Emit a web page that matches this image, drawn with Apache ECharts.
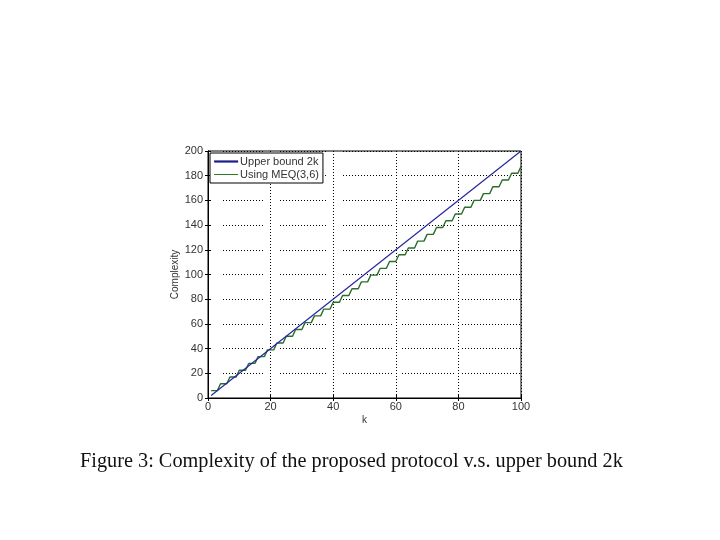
<!DOCTYPE html>
<html><head><meta charset="utf-8">
<script src="https://cdn.jsdelivr.net/npm/echarts@6/dist/echarts.min.js"></script>
<style>html,body{margin:0;padding:0;background:#fff;}#c{width:720px;height:540px;}</style>
</head><body><div id="c"></div>
<script>
// ---- data ----
var seriesNames = ['Upper bound 2k', 'Using MEQ(3,6)'];
var xTicks = [0, 20, 40, 60, 80, 100];
var yTicks = [0, 20, 40, 60, 80, 100, 120, 140, 160, 180, 200];
var boundK = [1, 100];
var boundV = [2, 200];
var meqK = [1,2,3,4,5,6,7,8,9,10,11,12,13,14,15,16,17,18,19,20,21,22,23,24,25,26,27,28,29,30,31,32,33,34,35,36,37,38,39,40,41,42,43,44,45,46,47,48,49,50,51,52,53,54,55,56,57,58,59,60,61,62,63,64,65,66,67,68,69,70,71,72,73,74,75,76,77,78,79,80,81,82,83,84,85,86,87,88,89,90,91,92,93,94,95,96,97,98,99,100];
var meqV = [6,6,6, 11.5,11.5,11.5, 17,17,17, 22.5,22.5,22.5, 28,28,28, 33.5,33.5,33.5, 39,39,39, 44.5,44.5,44.5, 50,50,50, 55.5,55.5,55.5,
            61,61,61, 66.5,66.5,66.5, 72,72,72, 77.5,77.5,77.5, 83,83,83, 88.5,88.5,88.5, 94,94,94, 99.5,99.5,99.5, 105,105,105, 110.5,110.5,110.5,
            116,116,116, 121.5,121.5,121.5, 127,127,127, 132.5,132.5,132.5, 138,138,138, 143.5,143.5,143.5, 149,149,149, 154.5,154.5,154.5,
            160,160,160, 165.5,165.5,165.5, 171,171,171, 176.5,176.5,176.5, 182,182,182, 187.5];
var caption = 'Figure 3: Complexity of the proposed protocol v.s. upper bound 2k';

function zip(a, b) { return a.map(function (v, i) { return [v, b[i]]; }); }

// style helper: dotted pattern with breaks, as in the original export
function dashPattern(segs) {
  var out = [];
  segs.forEach(function (s) {
    if (s[0] === 'gap') { out.push(0, s[1]); }
    else { for (var i = 0; i < Math.floor(s[1] / 3); i++) out.push(1, 2); }
  });
  return out;
}
var hDash = dashPattern([['gap', 15], ['dot', 42], ['gap', 15], ['dot', 48], ['gap', 15], ['dot', 52], ['gap', 8], ['dot', 54], ['gap', 6], ['dot', 60]]);

var chart = echarts.init(document.getElementById('c'), null, {renderer: 'canvas'});
var sans = 'Liberation Sans, Arial, sans-serif';
var labelFont = {color: '#333', fontFamily: sans, fontSize: 11};
chart.setOption({
  animation: false,
  backgroundColor: '#fff',
  grid: {left: 208, right: 199, top: 151, bottom: 142, show: true, borderColor: '#000', borderWidth: 1, backgroundColor: 'transparent'},
  legend: {
    left: 210, top: 153, orient: 'vertical',
    data: [{name: seriesNames[0], lineStyle: {width: 2.2, color: '#1c1c8c'}, itemStyle: {opacity: 0}},
           {name: seriesNames[1], lineStyle: {width: 1, color: '#2a7a2a'}, itemStyle: {opacity: 0}}],
    itemWidth: 24, itemHeight: 10, itemGap: 2,
    padding: [3, 4, 3, 3],
    borderColor: '#000', borderWidth: 1, backgroundColor: '#fff',
    textStyle: {color: '#333', fontFamily: sans, fontSize: 11, padding: [0, 0, 0, -3]}
  },
  xAxis: [{
    type: 'value', min: 0, max: 100, interval: 20,
    name: 'k', nameLocation: 'middle', nameGap: 17,
    nameTextStyle: {color: '#333', fontFamily: sans, fontSize: 10},
    axisLine: {show: true, onZero: false, lineStyle: {color: '#000'}},
    axisTick: {show: true, inside: true, length: 3, lineStyle: {color: '#000'}},
    axisLabel: Object.assign({margin: 3, formatter: function (v) { return xTicks.indexOf(v) >= 0 ? String(v) : ''; }}, labelFont),
    splitLine: {show: true, lineStyle: {color: '#000', width: 1, type: [1, 2]}}
  }, {
    type: 'value', min: 0, max: 100, interval: 20, position: 'top',
    axisLine: {show: true, lineStyle: {color: '#000'}},
    axisTick: {show: true, inside: true, length: 3, lineStyle: {color: '#000'}},
    axisLabel: {show: false}, splitLine: {show: false}
  }],
  yAxis: [{
    type: 'value', min: 0, max: 200, interval: 20,
    name: 'Complexity', nameLocation: 'middle', nameGap: 26,
    nameTextStyle: {color: '#333', fontFamily: sans, fontSize: 10},
    axisLine: {show: true, onZero: false, lineStyle: {color: '#000'}},
    axisTick: {show: true, inside: true, length: 3, lineStyle: {color: '#000'}},
    axisLabel: Object.assign({margin: 5, formatter: function (v) { return yTicks.indexOf(v) >= 0 ? String(v) : ''; }}, labelFont),
    splitLine: {show: true, lineStyle: {color: '#000', width: 1, type: hDash}}
  }, {
    type: 'value', min: 0, max: 200, interval: 20, position: 'right',
    axisLine: {show: true, lineStyle: {color: '#000'}},
    axisTick: {show: true, inside: true, length: 3, lineStyle: {color: '#000'}},
    axisLabel: {show: false}, splitLine: {show: false}
  }],
  series: [{
    name: seriesNames[0], type: 'line', data: zip(boundK, boundV), symbol: 'none',
    lineStyle: {color: '#2626a0', width: 1.2}, itemStyle: {color: '#1c1c8c'}, z: 3
  }, {
    name: seriesNames[1], type: 'line', data: zip(meqK, meqV), symbol: 'none',
    lineStyle: {color: '#2a6e2a', width: 1.4}, itemStyle: {color: '#2a7a2a'}, z: 2
  }],
  graphic: [{
    type: 'text', left: 80, top: 452,
    style: {text: caption, fill: '#111', font: '20.3px "Liberation Serif", "DejaVu Serif", serif'}
  }]
});
</script></body></html>
